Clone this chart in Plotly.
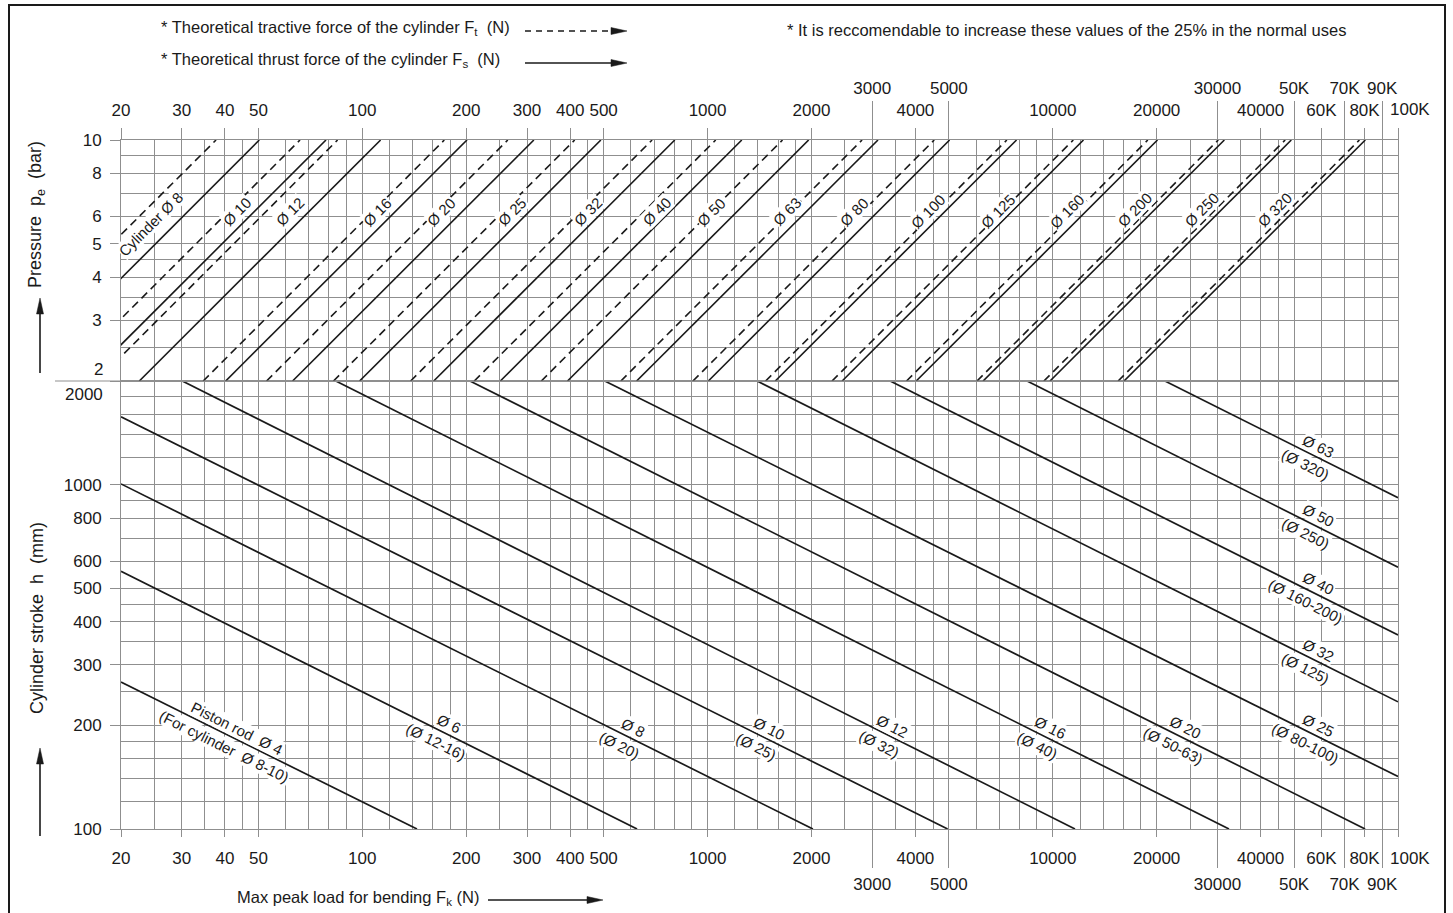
import math
import plotly.graph_objects as go

# ---------------- data ----------------
cylinder_labels = ["Cylinder Ø 8", "Ø 10", "Ø 12", "Ø 16", "Ø 20", "Ø 25", "Ø 32", "Ø 40",
                   "Ø 50", "Ø 63", "Ø 80", "Ø 100", "Ø 125", "Ø 160", "Ø 200", "Ø 250", "Ø 320"]
pressure_ends = [2, 10]  # bar
thrust_2bar = [10.1, 15.7, 22.6, 40.2, 62.8, 98.2, 161, 251, 393, 623, 1005, 1571, 2454,
               4021, 6283, 9817, 16085]
thrust_10bar = [50.3, 78.5, 113, 201, 314, 491, 804, 1257, 1963, 3117, 5027, 7854, 12272,
                20106, 31416, 49087, 80425]
tractive_2bar = [7.5, 13.2, 17.0, 34.6, 52.8, 82.5, 138, 211, 330, 561, 907, 1473, 2294,
                 3770, 6032, 9425, 15462]
tractive_10bar = [37.7, 66.0, 84.8, 172.8, 263.9, 412.3, 691, 1056, 1649, 2803, 4536, 7363,
                  11468, 18850, 30159, 47124, 77308]
cyl_label_force = [24.3, 43.4, 61.8, 111, 170, 272, 451, 714, 1030, 1700, 2672, 4360, 6940,
                   11000, 17300, 27000, 44000]
cyl_label_pressure = [5.7, 6.19, 6.19, 6.19, 6.19, 6.19, 6.19, 6.19, 6.19, 6.19, 6.19, 6.19,
                      6.19, 6.19, 6.3, 6.3, 6.3]

rod_label_top = ["Piston rod  Ø 4", "Ø 6", "Ø 8", "Ø 10", "Ø 12", "Ø 16", "Ø 20", "Ø 25",
                 "Ø 32", "Ø 40", "Ø 50", "Ø 63"]
rod_label_bottom = ["(For cylinder  Ø 8-10)", "(Ø 12-16)", "(Ø 20)", "(Ø 25)", "(Ø 32)", "(Ø 40)",
                    "(Ø 50-63)", "(Ø 80-100)", "(Ø 125)", "(Ø 160-200)", "(Ø 250)", "(Ø 320)"]
rod_start_force = [20, 20, 20, 20, 30.1, 83.8, 205, 504, 1392, 3380, 8425, 21130]
rod_start_stroke = [267, 560, 1005, 1575, 2000, 2000, 2000, 2000, 2000, 2000, 2000, 2000]
rod_end_force = [144, 625, 2020, 4960, 11600, 32400, 80300, 100000, 100000, 100000, 100000, 100000]
rod_end_stroke = [100, 100, 100, 100, 100, 100, 100, 142, 234, 366, 576, 916]
rod_label_force = [42, 172, 588, 1458, 3330, 9500, 23500, 57000, 57000, 57000, 57000, 57000]

x_major = [20, 30, 40, 50, 100, 200, 300, 400, 500, 1000, 2000, 4000, 10000, 20000, 40000,
           60000, 80000, 100000]
x_major_text = ["20", "30", "40", "50", "100", "200", "300", "400", "500", "1000", "2000",
                "4000", "10000", "20000", "40000", "60K", "80K", ""]
x_end_label = "100K"
x_alt = [3000, 5000, 30000, 50000, 70000, 90000]
x_alt_text = ["3000", "5000", "30000", "50K", "70K", "90K"]
p_ticks = [2, 3, 4, 5, 6, 8, 10]
p_ticktext = ["", "3", "4", "5", "6", "8", "10"]
h_ticks = [100, 200, 300, 400, 500, 600, 800, 1000, 2000]
h_ticktext = ["100", "200", "300", "400", "500", "600", "800", "1000", ""]
grid_steps = [1, 1.2, 1.4, 1.6, 1.8, 2, 2.5, 3, 3.5, 4, 4.5, 5, 6, 7, 8, 9]

# ---------------- styling ----------------
W, H = 1453, 913
L, R, T, B = 121, 1398, 140, 829
SPLIT = 381
FONT = "Liberation Sans, Arial, sans-serif"
INK = "#1a1a1a"
GRID = "#8f8f8f"


def px(xpix):
    return (xpix - L) / (R - L)


def py(ypix):
    return (B - ypix) / (B - T)


def grid_vals(lo, hi):
    out = []
    for e in range(0, 6):
        for s in grid_steps:
            v = s * 10 ** e
            if lo <= v <= hi + 1e-9:
                out.append(v)
    return out


xgrid = grid_vals(20, 100000)
pgrid = grid_vals(2, 10)
hgrid = grid_vals(100, 2000)

fig = go.Figure()

# top panel: thrust (solid) and tractive (dashed) force lines
for i in range(len(cylinder_labels)):
    fig.add_trace(go.Scatter(x=[tractive_2bar[i], tractive_10bar[i]], y=pressure_ends,
                             mode="lines", xaxis="x2", yaxis="y",
                             line=dict(color=INK, width=1.6, dash="8px,5px"),
                             hoverinfo="skip", showlegend=False))
    fig.add_trace(go.Scatter(x=[thrust_2bar[i], thrust_10bar[i]], y=pressure_ends,
                             mode="lines", xaxis="x2", yaxis="y",
                             line=dict(color=INK, width=1.6),
                             hoverinfo="skip", showlegend=False))

# bottom panel: buckling lines of piston rods
for i in range(len(rod_label_top)):
    fig.add_trace(go.Scatter(x=[rod_start_force[i], rod_end_force[i]],
                             y=[rod_start_stroke[i], rod_end_stroke[i]],
                             mode="lines", xaxis="x", yaxis="y2",
                             line=dict(color=INK, width=1.7),
                             hoverinfo="skip", showlegend=False))

# empty traces so the extra label axes are registered
fig.add_trace(go.Scatter(x=[], y=[], xaxis="x3", yaxis="y2", showlegend=False))
fig.add_trace(go.Scatter(x=[], y=[], xaxis="x4", yaxis="y", showlegend=False))

annotations = []
lab_font = dict(family=FONT, size=15, color=INK)
# cylinder labels (top)
for i, lab in enumerate(cylinder_labels):
    annotations.append(dict(xref="x2", yref="y", x=math.log10(cyl_label_force[i]),
                            y=math.log10(cyl_label_pressure[i]), text=lab, showarrow=False,
                            textangle=-45, font=lab_font, xanchor="center", yanchor="middle",
                            bgcolor="white", borderpad=0))

# rod labels (bottom)
for i in range(len(rod_label_top)):
    f0, f1 = math.log10(rod_start_force[i]), math.log10(rod_end_force[i])
    h0, h1 = math.log10(rod_start_stroke[i]), math.log10(rod_end_stroke[i])
    fl = math.log10(rod_label_force[i])
    hl = h0 + (fl - f0) / (f1 - f0) * (h1 - h0)
    annotations.append(dict(xref="x", yref="y2", x=fl, y=hl, text=rod_label_top[i],
                            showarrow=False, textangle=26.5, xshift=5, yshift=9,
                            xanchor="center", yanchor="middle", font=lab_font,
                            bgcolor="white", borderpad=0))
    annotations.append(dict(xref="x", yref="y2", x=fl, y=hl, text=rod_label_bottom[i],
                            showarrow=False, textangle=26.5, xshift=-8, yshift=-9,
                            xanchor="center", yanchor="middle", font=lab_font,
                            bgcolor="white", borderpad=0))

txt = dict(family=FONT, size=16.5, color=INK)
title_font = dict(family=FONT, size=18, color=INK)
tickfont = dict(family=FONT, size=17, color=INK)


def note(x, y, text, xanchor="center", angle=0, font=txt):
    annotations.append(dict(xref="paper", yref="paper", x=px(x), y=py(y), text=text,
                            showarrow=False, font=font, xanchor=xanchor, yanchor="middle",
                            textangle=angle))


# labels placed off their gridline
note(105, 369, "2", xanchor="right", font=tickfont)
note(105, 394, "2000", xanchor="right", font=tickfont)
note(1410, 858, x_end_label, font=tickfont)
note(1410, 110, x_end_label, font=tickfont)
# axis titles
note(37, 215, "Pressure  p<sub>e</sub>  (bar)", angle=-90, font=title_font)
note(37, 618, "Cylinder stroke  h  (mm)", angle=-90, font=title_font)
note(481, 898, "Max peak load for bending F<sub>k</sub> (N)", xanchor="right")
# legend texts
note(159, 28, "* Theoretical tractive force of the cylinder F<sub>t</sub>  (N)", xanchor="left")
note(159, 60, "* Theoretical thrust force of the cylinder F<sub>s</sub>  (N)", xanchor="left")
note(1066, 30, "* It is reccomendable to increase these values of the 25% in the normal uses")

shapes = []


def arrow_h(x0, x1, y, dash="solid"):
    shapes.append(dict(type="line", xref="paper", yref="paper", x0=px(x0), x1=px(x1 - 12),
                       y0=py(y), y1=py(y), line=dict(color=INK, width=1.6, dash=dash)))
    shapes.append(dict(type="path", xref="paper", yref="paper",
                       path=f"M {px(x1)},{py(y)} L {px(x1 - 16)},{py(y - 3.5)} L {px(x1 - 16)},{py(y + 3.5)} Z",
                       fillcolor=INK, line=dict(color=INK, width=0.5)))


def arrow_v(x, y0, y1):
    shapes.append(dict(type="line", xref="paper", yref="paper", x0=px(x), x1=px(x),
                       y0=py(y0), y1=py(y1 + 12), line=dict(color=INK, width=1.6)))
    shapes.append(dict(type="path", xref="paper", yref="paper",
                       path=f"M {px(x)},{py(y1)} L {px(x - 3.5)},{py(y1 + 16)} L {px(x + 3.5)},{py(y1 + 16)} Z",
                       fillcolor=INK, line=dict(color=INK, width=0.5)))


arrow_h(525, 627, 31, dash="6px,5px")
arrow_h(525, 627, 63)
arrow_h(488, 603, 900)
arrow_v(40, 373, 298)
arrow_v(40, 836, 748)

# divider / "2" tick extending left
shapes.append(dict(type="line", xref="paper", yref="paper", x0=px(55), x1=1, y0=py(SPLIT),
                   y1=py(SPLIT), line=dict(color=GRID, width=1)))
# outer frame
shapes.append(dict(type="rect", xref="paper", yref="paper", x0=px(9), x1=px(1445),
                   y0=py(925), y1=py(5), line=dict(color=INK, width=2)))

split_frac = py(SPLIT)
common_x = dict(type="log", range=[math.log10(20), 5], showgrid=True, gridcolor=GRID,
                gridwidth=1, zeroline=False, showline=True, linecolor=GRID, linewidth=1,
                mirror=True, ticks="outside", tickcolor=GRID, tickwidth=1, tickangle=0,
                tickfont=tickfont, tickmode="array",
                minor=dict(tickvals=xgrid, showgrid=True, gridcolor=GRID, gridwidth=1, ticks=""))
alt_x = dict(type="log", range=[math.log10(20), 5], showgrid=False, showline=False,
             zeroline=False, ticks="outside", tickcolor=GRID, tickwidth=1, tickangle=0,
             tickmode="array", tickvals=x_alt, ticktext=x_alt_text, tickfont=tickfont)

fig.update_layout(
    width=W, height=H,
    margin=dict(l=L, r=W - R, t=T, b=H - B, pad=0),
    paper_bgcolor="white", plot_bgcolor="white",
    showlegend=False,
    xaxis=dict(**common_x, anchor="y2", side="bottom", ticklen=7, tickvals=x_major,
               ticktext=x_major_text, ticklabelstandoff=7),
    xaxis2=dict(**common_x, anchor="y", side="top", ticklen=11, tickvals=x_major,
                ticktext=x_major_text, matches="x", ticklabelstandoff=5),
    xaxis3=dict(**alt_x, overlaying="x", anchor="y2", side="bottom", ticklen=38,
                ticklabelstandoff=2),
    xaxis4=dict(**alt_x, overlaying="x2", anchor="y", side="top", ticklen=38,
                ticklabelstandoff=0),
    yaxis=dict(type="log", domain=[split_frac, 1], range=[math.log10(2), 1], anchor="x2",
               showgrid=True, gridcolor=GRID, gridwidth=1, zeroline=False, showline=True,
               linecolor=GRID, mirror=True, ticks="outside", ticklen=10, tickcolor=GRID,
               tickmode="array", tickvals=p_ticks, ticktext=p_ticktext, tickfont=tickfont,
               ticklabelstandoff=5,
               minor=dict(tickvals=pgrid, showgrid=True, gridcolor=GRID, gridwidth=1, ticks="")),
    yaxis2=dict(type="log", domain=[0, split_frac], range=[2, math.log10(2000)], anchor="x",
                showgrid=True, gridcolor=GRID, gridwidth=1, zeroline=False, showline=True,
                linecolor=GRID, mirror=True, ticks="outside", ticklen=10, tickcolor=GRID,
                tickmode="array", tickvals=h_ticks, ticktext=h_ticktext, tickfont=tickfont,
                ticklabelstandoff=5,
                minor=dict(tickvals=hgrid, showgrid=True, gridcolor=GRID, gridwidth=1, ticks="")),
    annotations=annotations,
    shapes=shapes,
)

fig.write_html("out.html", config={"displayModeBar": False},
               post_script="document.body.style.margin='0';")
